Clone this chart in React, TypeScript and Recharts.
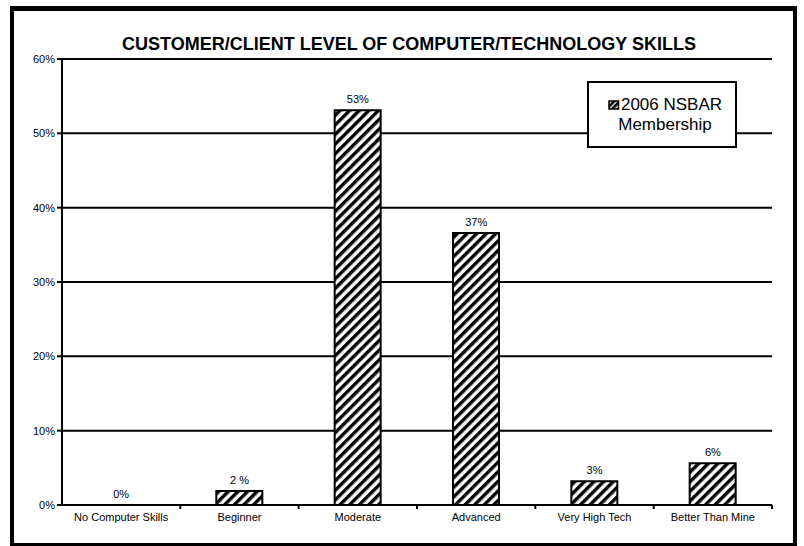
import { ComposedChart, Bar, Line, XAxis, YAxis, CartesianGrid, Legend, LabelList } from 'recharts';

const categories = ['No Computer Skills', 'Beginner', 'Moderate', 'Advanced', 'Very High Tech', 'Better Than Mine'];
const membership2006 = [0, 1.9, 53.1, 36.6, 3.2, 5.6];
const valueLabels = ['0%', '2 %', '53%', '37%', '3%', '6%'];
const yTicks = [0, 10, 20, 30, 40, 50, 60];

const seriesName = '2006 NSBAR Membership';
const font = '"Liberation Sans", Arial, sans-serif';

const data = categories.map((name, i) => ({
  name,
  value: membership2006[i],
  label: valueLabels[i],
}));

const TICK_SIZE = 4;
const TICK_MARGIN = 4;

// category label plus small tick marks on the band edges
function CategoryTick(props: any) {
  const { x, y, payload, index, visibleTicksCount } = props;
  const half = payload.offset || 0;
  const axisY = y - TICK_SIZE - TICK_MARGIN;
  const isLast = index === visibleTicksCount - 1;
  return (
    <g>
      {index > 0 && (
        <line x1={x - half} x2={x - half} y1={axisY} y2={axisY + TICK_SIZE} stroke="#000" strokeWidth={2} />
      )}
      {isLast && (
        <line x1={x + half} x2={x + half} y1={axisY} y2={axisY + TICK_SIZE} stroke="#000" strokeWidth={2} />
      )}
      <text x={x} y={y} dy="0.71em" textAnchor="middle" fontSize={11} fontFamily={font} fill="#000">
        {payload.value}
      </text>
    </g>
  );
}

function LegendBox(props: any) {
  const entry = (props.payload || []).find((p: any) => p.type !== 'none');
  return (
    <div
      style={{
        boxSizing: 'border-box',
        width: 150,
        height: 67,
        border: '2px solid #000',
        background: '#fff',
        display: 'flex',
        alignItems: 'center',
        justifyContent: 'center',
        fontFamily: font,
        fontSize: 17,
        lineHeight: '20px',
        color: '#000',
        textAlign: 'center',
      }}
    >
      <div style={{ width: 128, paddingLeft: 6 }}>
        <svg width={12} height={10} style={{ marginRight: 1, verticalAlign: '0px' }}>
          <rect x={1} y={1} width={9.5} height={8} fill="url(#hatchSmall)" stroke="#000" strokeWidth={1.5} />
        </svg>
        {entry ? entry.value : seriesName}
      </div>
    </div>
  );
}

export default function App() {
  return (
    <div
      style={{
        position: 'absolute',
        left: 10,
        top: 6,
        width: 779,
        height: 532,
        border: '4px solid #000',
        borderTopWidth: 5,
        background: '#fff',
      }}
    >
      <svg width={0} height={0} style={{ position: 'absolute' }}>
        <defs>
          <pattern id="hatch" patternUnits="userSpaceOnUse" width={6.8} height={10} patternTransform="rotate(45)">
            <rect x={0} y={0} width={6.8} height={10} fill="#fff" />
            <rect x={0} y={0} width={3.4} height={10} fill="#000" />
          </pattern>
          <pattern id="hatchSmall" patternUnits="userSpaceOnUse" width={4} height={6} patternTransform="rotate(45)">
            <rect x={0} y={0} width={4} height={6} fill="#fff" />
            <rect x={0} y={0} width={2.6} height={6} fill="#000" />
          </pattern>
        </defs>
      </svg>

      <div
        style={{
          position: 'absolute',
          left: 395,
          top: 23,
          transform: 'translateX(-50%)',
          whiteSpace: 'nowrap',
          fontFamily: font,
          fontWeight: 'bold',
          fontSize: 18,
          lineHeight: '20px',
          color: '#000',
          zIndex: 2,
        }}
      >
        CUSTOMER/CLIENT LEVEL OF COMPUTER/TECHNOLOGY SKILLS
      </div>

      <ComposedChart
        width={779}
        height={531}
        data={data}
        margin={{ top: 48, right: 21, left: 0, bottom: 0 }}
      >
        <CartesianGrid vertical={false} stroke="#000" strokeWidth={2} />
        <XAxis
          dataKey="name"
          height={37}
          interval={0}
          stroke="#000"
          axisLine={{ stroke: '#000', strokeWidth: 2 }}
          tickLine={false}
          tickSize={TICK_SIZE}
          tickMargin={TICK_MARGIN}
          tick={<CategoryTick />}
        />
        <YAxis
          width={48}
          domain={[0, 60]}
          ticks={yTicks}
          interval={0}
          stroke="#000"
          tickFormatter={(v: number) => `${v}%`}
          axisLine={{ stroke: '#000', strokeWidth: 2 }}
          tickLine={{ stroke: '#000', strokeWidth: 2 }}
          tickSize={5}
          tickMargin={2}
          tick={{ fill: '#000', stroke: 'none', fontSize: 11, fontFamily: font }}
        />
        <YAxis
          yAxisId="r"
          orientation="right"
          width={0}
          domain={[0, 60]}
          stroke="#000"
          tick={false}
          tickLine={false}
          axisLine={{ stroke: '#000', strokeWidth: 2 }}
        />
        <Legend
          layout="vertical"
          align="center"
          verticalAlign="middle"
          content={<LegendBox />}
          wrapperStyle={{ left: 573, top: 70, width: 150, height: 67 }}
        />
        <Bar
          dataKey="value"
          name={seriesName}
          barSize={46}
          fill="url(#hatch)"
          stroke="#000"
          strokeWidth={2}
          isAnimationActive={false}
        />
        {/* invisible series carrying the value labels, so the 0% one shows too */}
        <Line
          dataKey="value"
          stroke="none"
          dot={false}
          activeDot={false}
          legendType="none"
          isAnimationActive={false}
        >
          <LabelList
            dataKey="label"
            position="top"
            offset={7}
            fill="#000"
            fontSize={11}
            fontFamily={font}
          />
        </Line>
      </ComposedChart>
    </div>
  );
}
